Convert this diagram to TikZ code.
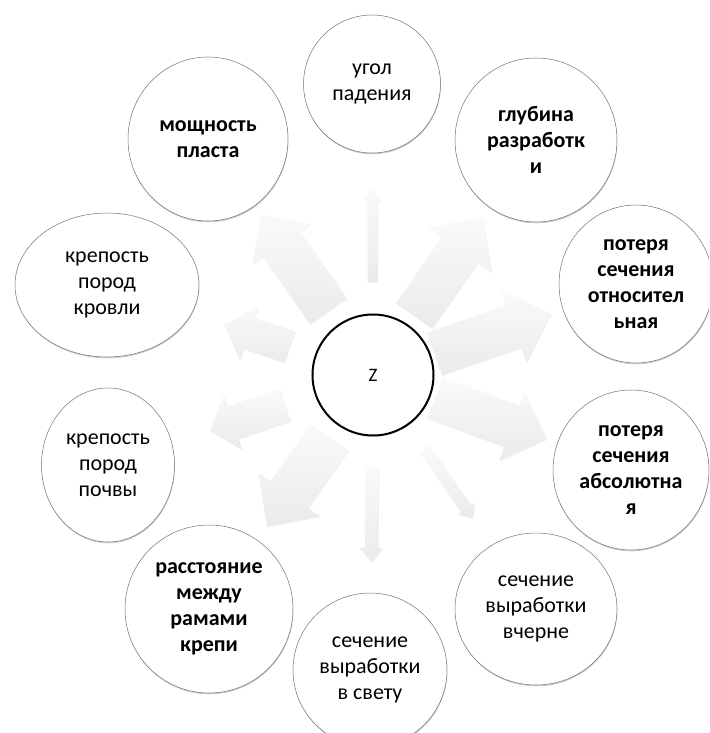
\documentclass[tikz,border=0pt]{standalone}
\usepackage{fontspec}
\setmainfont{Carlito}
\usetikzlibrary{calc,shapes.geometric,shadows}

\begin{document}
\begin{tikzpicture}[x=1pt,y=1pt,
	sat/.style={ellipse,draw=black!55,line width=0.5pt,fill=white,inner sep=0pt,
		align=center,font=\fontsize{22}{26}\selectfont,
		drop shadow={opacity=0.4,shadow xshift=0.4pt,shadow yshift=-1.3pt}},
	satb/.style={sat,font=\fontsize{22}{26}\selectfont\bfseries},
	hub/.style={circle,draw=black,line width=2pt,fill=white,minimum size=121pt,
		inner sep=0pt,font=\fontsize{19}{23}\selectfont,
		drop shadow={opacity=0.3,shadow xshift=0.6pt,shadow yshift=-1.2pt}},
	blockarrow/.style={top color=gray!4,bottom color=gray!16,draw=none,
		drop shadow={opacity=0.12,shadow xshift=0.8pt,shadow yshift=-1pt}}
	]
	\clip (-373,-358) rectangle (336,375);
	% nodes
	\node[hub] (Z) at (0,0) {Z};
	\node[sat,minimum width=137pt,minimum height=138pt] (ugol) at (-1,291) {угол\\падения};
	\node[satb,minimum width=160pt,minimum height=164pt] (moshch) at (-165,236) {мощность\\пласта};
	\node[satb,minimum width=162pt,minimum height=164pt] (glub) at (163,235) {глубина\\разработк\\и};
	\node[sat,minimum width=184pt,minimum height=144pt] (krovli) at (-266,90) {крепость\\пород\\кровли};
	\node[satb,minimum width=154pt,minimum height=158pt] (otnos) at (263,91) {потеря\\сечения\\относител\\ьная};
	\node[sat,minimum width=133pt,minimum height=154pt] (pochvy) at (-265,-90) {крепость\\пород\\почвы};
	\node[satb,minimum width=156pt,minimum height=160pt] (absol) at (258,-95) {потеря\\сечения\\абсолютна\\я};
	\node[satb,minimum width=168pt,minimum height=168pt] (rasst) at (-164,-234) {расстояние\\между\\рамами\\крепи};
	\node[sat,minimum width=154pt,minimum height=154pt] (vsvetu) at (-3,-295) {сечение\\выработки\\в свету};
	\node[sat,minimum width=162pt,minimum height=152pt] (vcherne) at (163,-234) {сечение\\выработки\\вчерне};
	% arrows: target/start/end/shaft/head/head length
	\foreach \n/\ra/\rb/\w/\h/\l in {ugol/93/186/10/17/11, moshch/78/196/45/70/36,
		glub/72/192/44/78/40, otnos/65/188/45/76/39, absol/66/185/44/73/37,
		vcherne/90/174/12/20/11, vsvetu/92/187/13/23/14, rasst/76/185/46/75/39,
		pochvy/93/172/34/57/24, krovli/88/157/33/57/26}
	{
		\path[blockarrow]
		($(Z.center)!\ra pt!(\n.center)!0.5*\w pt!90:(\n.center)$)
		-- ($(Z.center)!\rb pt-\l pt!(\n.center)!0.5*\w pt!90:(\n.center)$)
		-- ($(Z.center)!\rb pt-\l pt!(\n.center)!0.5*\h pt!90:(\n.center)$)
		-- ($(Z.center)!\rb pt!(\n.center)$)
		-- ($(Z.center)!\rb pt-\l pt!(\n.center)!0.5*\h pt!-90:(\n.center)$)
		-- ($(Z.center)!\rb pt-\l pt!(\n.center)!0.5*\w pt!-90:(\n.center)$)
		-- ($(Z.center)!\ra pt!(\n.center)!0.5*\w pt!-90:(\n.center)$)
		-- cycle;
	}
\end{tikzpicture}
\end{document}
